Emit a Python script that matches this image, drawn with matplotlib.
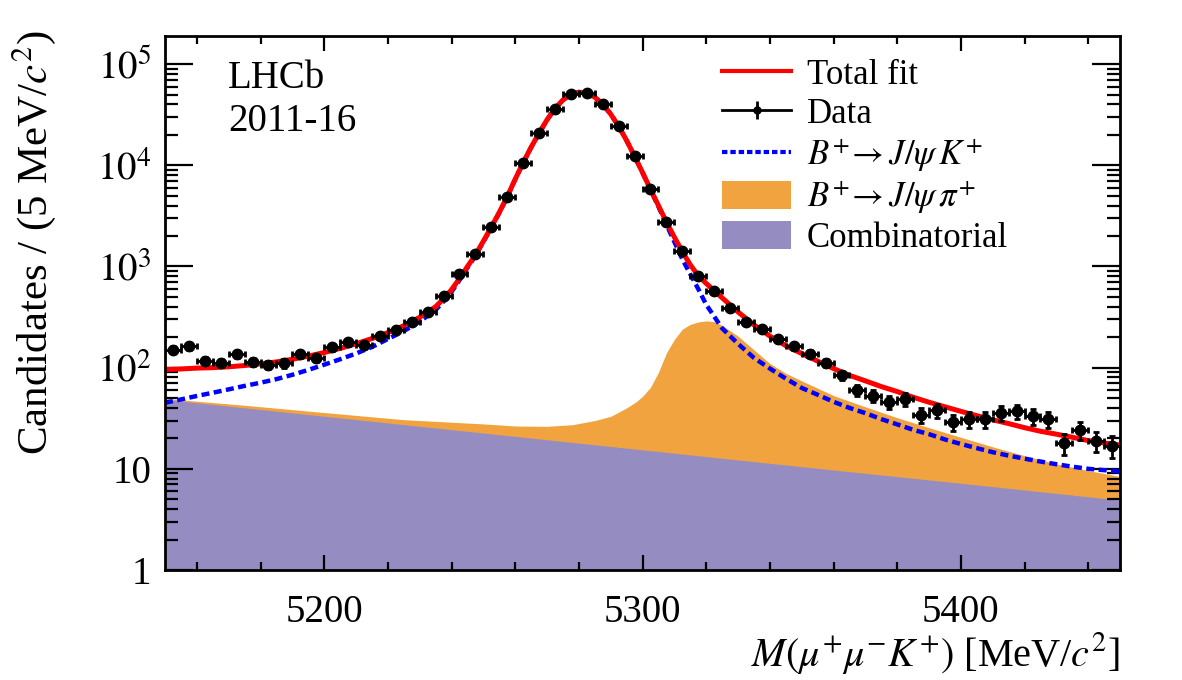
import matplotlib.pyplot as plt
import numpy as np
from matplotlib.lines import Line2D
from matplotlib.patches import Patch

plt.rcParams.update({
    'font.family': 'Liberation Serif',
    'mathtext.fontset': 'stix',
})

# Data: 5 MeV bins from 5150 to 5450
mass_bins = np.arange(5152.5, 5450, 5.0)
counts = np.array([151, 163, 117, 111, 135, 114, 107, 110, 135, 125,
                   159, 178, 166, 207, 234, 281, 353, 516, 834, 1336,
                   2450, 4900, 10640, 20750, 36400, 50400, 51600, 40200, 24300, 12300,
                   5850, 2750, 1408, 802, 570, 386, 285, 242, 192, 163,
                   138, 111, 84, 60, 53, 46, 49, 34, 38, 29,
                   31, 31, 36, 37, 33, 31, 18, 24, 19, 17])

# Fit curves
fit_mass = np.concatenate([np.arange(5150, 5236, 5.0),
                           np.arange(5237.5, 5321, 2.5),
                           np.arange(5325, 5451, 5.0)])
total_fit = [96, 97, 99, 100, 102, 105, 109, 114, 121, 130,
             141, 155, 172, 194, 222, 260, 315, 400,
             480, 590, 760, 1000, 1300, 1780, 2450, 3430, 4900, 7300,
             10600, 15100, 20800, 28200, 36400, 44300, 50400, 52900, 51600, 47200,
             40200, 32100, 24300, 17600, 12300, 8500, 5800, 4000, 2750, 1950,
             1400, 1040, 810, 680,
             490, 355, 265, 205, 165, 138, 116, 98, 84, 74,
             65, 58, 51, 45.5, 41, 37, 33.5, 30.5, 28, 25.5,
             23.5, 22, 20.5, 19, 18, 17.2]
jpsik = [45, 48.5, 52.5, 56.5, 61, 66, 71, 77, 85, 95,
         107, 121, 138, 160, 192, 230, 285, 372,
         452, 562, 732, 972, 1272, 1752, 2420, 3400, 4870, 7270,
         10570, 15070, 20770, 28170, 36370, 44270, 50370, 52870, 51570, 47170,
         40170, 32070, 24260, 17560, 12250, 8450, 5730, 3900, 2600, 1750,
         1180, 840, 600, 420,
         245, 172, 125, 98, 78, 63, 54, 46, 40, 35.5,
         31, 27.5, 24.3, 22, 19.5, 17.6, 16, 14.6, 13.5, 12.6,
         11.8, 11.1, 10.5, 10, 9.7, 9.4]

# B+ -> J/psi pi+ stacked on top of combinatorial
pi_mass = [5150, 5175, 5200, 5225, 5250, 5260, 5270, 5278, 5285, 5290,
           5295, 5298, 5300, 5302.5, 5305, 5307.5, 5310, 5312.5, 5315, 5317.5,
           5320, 5322.5, 5325, 5330, 5335, 5340, 5345, 5350, 5360, 5370,
           5380, 5390, 5400, 5410, 5420, 5430, 5440, 5450]
pi_stack = [49.5, 42.5, 36, 30.6, 27.8, 26.5, 26.3, 27.3, 30, 33,
            40, 46, 52, 64, 90, 140, 190, 240, 268, 283,
            290, 285, 262, 205, 150, 110, 88, 74, 53, 41,
            32, 25.5, 20.5, 16.5, 13.5, 11.2, 9.6, 8.4]

comb_mass = [5150, 5200, 5250, 5300, 5350, 5400, 5450]
comb = [48.5, 33.1, 22.6, 15.4, 10.5, 7.2, 4.9]

orange = '#f1a340'
purple = '#958dc2'

fig = plt.figure(figsize=(11.82, 6.8), dpi=100)
ax = fig.add_axes([0.1396, 0.1618, 0.808, 0.7853])

ax.fill_between(pi_mass, 0.1, pi_stack, color=orange, lw=0)
ax.fill_between(comb_mass, 0.1, comb, color=purple, lw=0)
ax.plot(fit_mass, jpsik, color='blue', lw=3.2, ls=(0, (1.8, 1)))
ax.plot(fit_mass, total_fit, color='red', lw=3.6)
ax.errorbar(mass_bins, counts, xerr=2.5, yerr=np.sqrt(counts), fmt='o', color='k',
            ms=7.5, lw=2, capsize=2.2, capthick=2)

ax.set_yscale('log')
ax.set_xlim(5150, 5450)
ax.set_ylim(1, 1.9e5)
ax.set_xticks([5200, 5300, 5400])
ax.set_xticks(np.arange(5160, 5450, 20), minor=True)
ax.set_yticks([1, 10, 100, 1e3, 1e4, 1e5],
              labels=['1', '10', '$10^{2}$', '$10^{3}$', '$10^{4}$', '$10^{5}$'])
ax.tick_params(which='both', direction='in', top=True, right=True, width=1.6,
               labelsize=28)
ax.tick_params(axis='x', which='major', length=11, pad=17)
ax.tick_params(axis='x', which='minor', length=6)
ax.tick_params(axis='y', which='major', length=20, pad=10)
ax.tick_params(axis='y', which='minor', length=9.5)
for s in ax.spines.values():
    s.set_linewidth(2)

ax.set_xlabel(r'$M(\mu^{+}\mu^{-}K^{+})$ [MeV/$c^{2}$]', fontsize=29, loc='right')
ax.xaxis.set_label_coords(1.0, -0.113)
ax.set_ylabel(r'Candidates / (5 MeV/$c^{2}$)', fontsize=31, loc='top')
ax.yaxis.set_label_coords(-0.112, 1.01)

ax.text(0.066, 0.955, 'LHCb\n2011-16', transform=ax.transAxes, va='top', ha='left',
        fontsize=28, linespacing=1.2)

h_total = Line2D([], [], color='red', lw=3)
h_data = (Line2D([], [], color='k', lw=2),
          Line2D([], [], color='k', marker='o', ms=5, ls='none'),
          Line2D([], [], color='k', marker='|', ms=13, mew=2, ls='none'))
h_k = Line2D([], [], color='blue', lw=3, ls=(0, (1.3, 0.7)))
h_pi = Patch(color=orange, lw=0)
h_comb = Patch(color=purple, lw=0)
ax.legend([h_total, h_data, h_k, h_pi, h_comb],
          ['Total fit', 'Data', r'$B^{+}\!\rightarrow J/\psi\, K^{+}$',
           r'$B^{+}\!\rightarrow J/\psi\, \pi^{+}$', 'Combinatorial'],
          loc='upper left', bbox_to_anchor=(0.583, 0.958), frameon=False,
          fontsize=25, handlelength=2.0, handleheight=0.85, handletextpad=0.45,
          labelspacing=0.14, borderpad=0, borderaxespad=0)

fig.savefig('out.png', dpi=100)
